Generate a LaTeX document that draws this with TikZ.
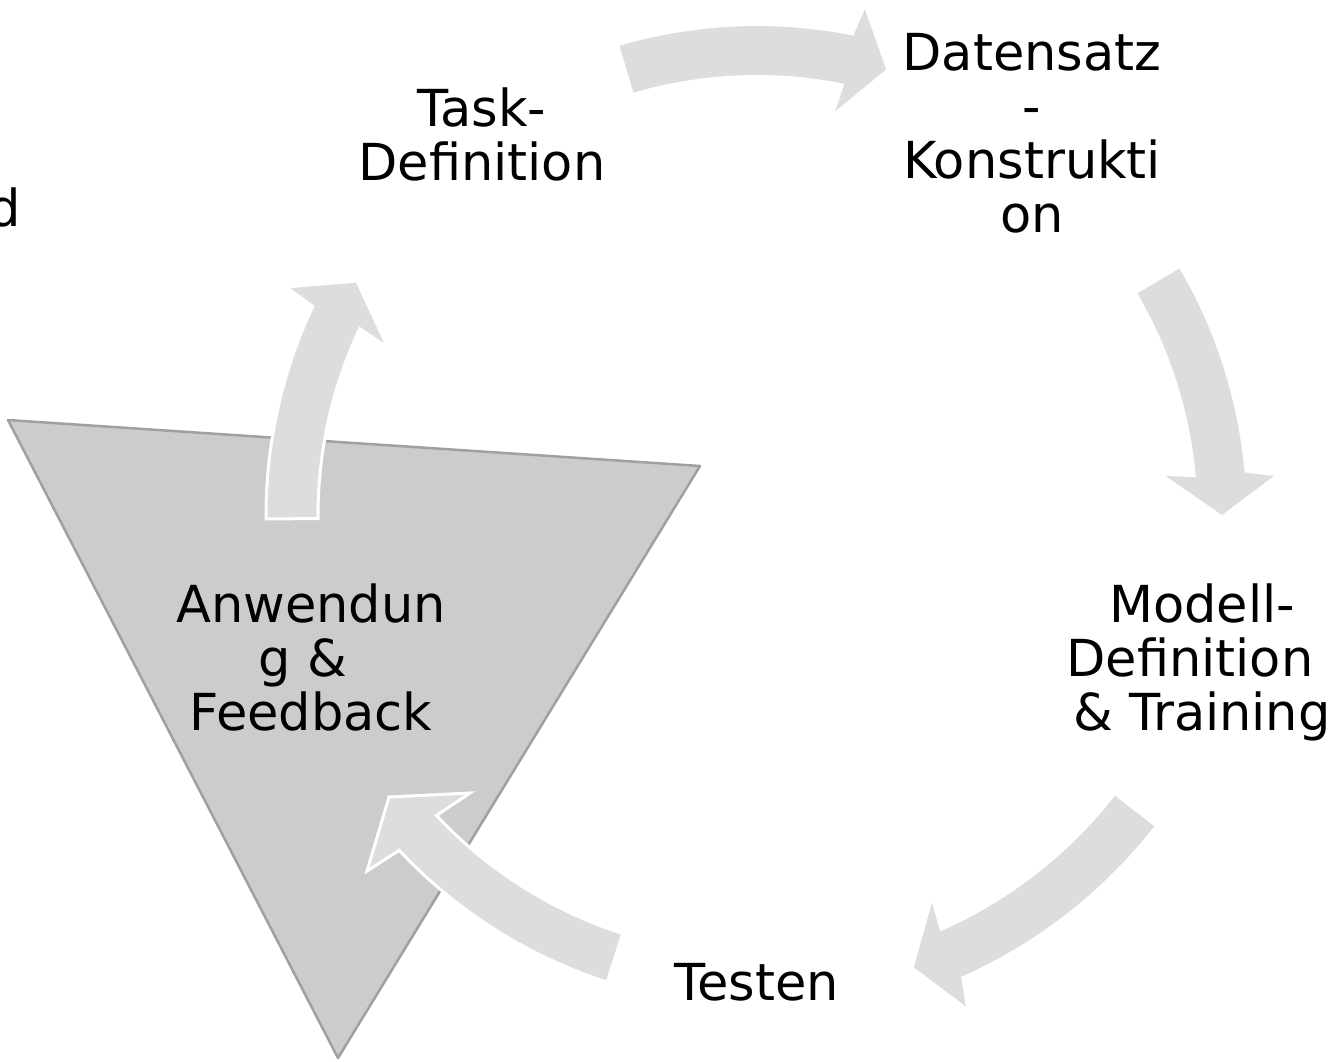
\documentclass[tikz,border=0pt]{standalone}
\usepackage{fontspec}
\setmainfont{DejaVu Sans}
\usetikzlibrary{calc}

\definecolor{arrowgrey}{HTML}{DDDDDD}
\definecolor{trifill}{HTML}{CCCCCC}
\definecolor{triedge}{HTML}{A0A0A0}

% fixed height for the first line of every label, so that "north" sits 40pt above its baseline
\newcommand{\topstrut}{\rule{0pt}{40pt}}

% curved block arrow around the cycle centre (C):
% #1 tail angle, #2 angle where the shaft ends, #3 inner radius, #4 outer radius,
% #5 outer barb, #6 tip, #7 inner barb
\newcommand{\cyclearrow}[7]{%
  \path[cyclearrowstyle] ($(C)+(#1:#4)$) arc[start angle=#1, end angle=#2, radius=#4]
    -- #5 -- #6 -- #7 -- ($(C)+(#2:#3)$) arc[start angle=#2, end angle=#1, radius=#3] -- cycle;}

\begin{document}
\begin{tikzpicture}[x=1pt, y=-1pt,
  lbl/.style={font=\fontsize{51}{54}\selectfont, align=center, inner sep=0pt, anchor=north},
  cyclearrowstyle/.style={fill=arrowgrey, draw=white, line width=3pt, line join=miter},
  stage/.style={fill=trifill, draw=triedge, line width=2.5pt, line join=round}]
\useasboundingbox (0,0) rectangle (1329,1061);
\coordinate (C) at (757,515.5);

% highlighted stage: downward triangle
\path[stage] (8,420) -- (700,466) -- (338,1058) -- cycle;

% stage labels
\node[lbl] (task)  at (482,86)   {\topstrut Task-\\Definition};
\node[lbl] (data)  at (1032,30)  {\topstrut Datensatz\\-\\Konstrukti\\on};
\node[lbl] (model) at (1198,582) {\topstrut \mbox{\kern8pt Modell-}\\\mbox{Definition\ }\\\mbox{\kern8pt\& Training}};
\node[lbl] (test)  at (757,960)  {\topstrut Testen};
\node[lbl] (apply) at (311,582)  {\topstrut Anwendun\\\mbox{g \&\ }\\Feedback};
\node[lbl, anchor=base west] (cut) at (-12,226) {d};

% arrows between the stages
\cyclearrow{-106.5}{-78.8}{439}{491}{(865,5)}{(888,70)}{(832,116)}
\cyclearrow{-30.5}{-5.2}{439}{491}{(1278,475)}{(1222,517)}{(1160,474)}
\cyclearrow{37.85}{66}{453}{506}{(968,1010)}{(912,968)}{(932,897)}
\cyclearrow{107.8}{136.9}{439}{490}{(367,871)}{(389,797)}{(470,793)}
\cyclearrow{179.6}{205.2}{439}{491}{(286,287)}{(357,281)}{(388,348)}
\end{tikzpicture}
\end{document}
